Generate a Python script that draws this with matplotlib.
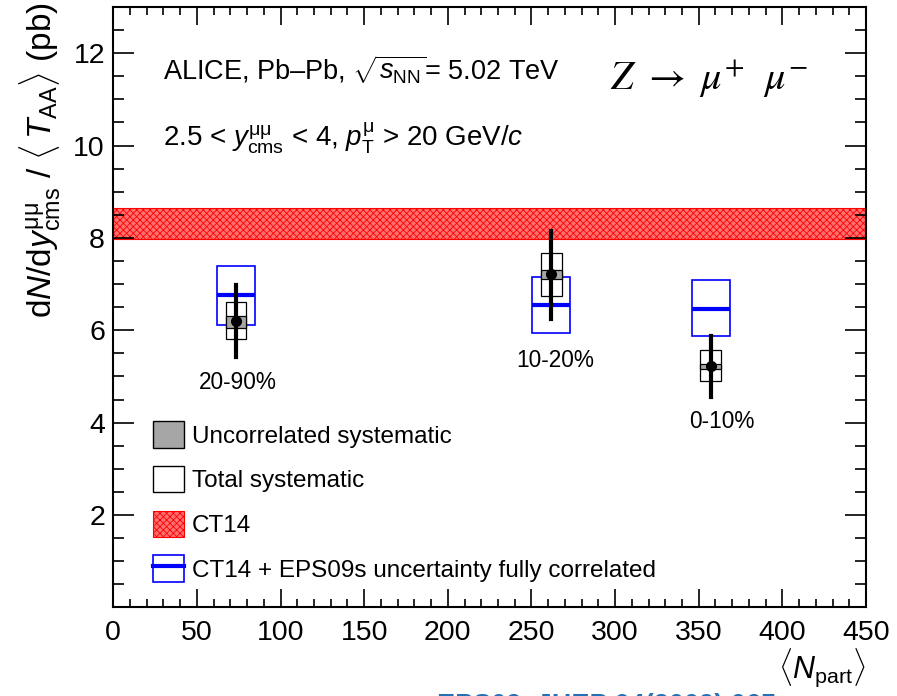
import matplotlib
matplotlib.use("Agg")
import matplotlib.pyplot as plt
from matplotlib.patches import Rectangle, Patch
from matplotlib.lines import Line2D
from matplotlib.ticker import MultipleLocator

plt.rcParams['font.family'] = ['Liberation Sans', 'DejaVu Sans']
plt.rcParams['mathtext.fontset'] = 'custom'
plt.rcParams['mathtext.rm'] = 'Liberation Sans'
plt.rcParams['mathtext.it'] = 'Liberation Sans:italic'
plt.rcParams['mathtext.bf'] = 'Liberation Sans:bold'
plt.rcParams['hatch.linewidth'] = 0.6

# ---------------- data ----------------
centralities = ["20-90%", "10-20%", "0-10%"]
npart = [73.4, 261.9, 357.2]
yield_val = [6.20, 7.21, 5.23]
stat_lo = [5.43, 6.25, 4.56]
stat_hi = [6.99, 8.15, 5.88]
syst_tot_lo = [5.80, 6.75, 4.90]
syst_tot_hi = [6.62, 7.67, 5.57]
syst_unc_lo = [6.05, 7.11, 5.16]
syst_unc_hi = [6.31, 7.30, 5.27]
eps_central = [6.76, 6.54, 6.47]
eps_lo = [6.11, 5.93, 5.87]
eps_hi = [7.39, 7.16, 7.09]
ct14_lo, ct14_hi = 7.98, 8.65
label_pos = [(74.6, 4.73), (264.0, 5.20), (364.0, 3.89)]

syst_halfw = 6.2
eps_halfw = 11.3

fig = plt.figure(figsize=(8.97, 6.96), dpi=100)
ax = fig.add_axes([113.3/897, 1-607.3/696, (866-113.3)/897, (607.3-7)/696])
ax.set_xlim(0, 450)
ax.set_ylim(0, 13)

# CT14 band
ax.axhspan(ct14_lo, ct14_hi, facecolor='#ff7070', edgecolor='red', hatch='xxxxx', lw=0.8, zorder=1)

for i in range(len(npart)):
    x = npart[i]
    # EPS09 box + line
    ax.add_patch(Rectangle((x-eps_halfw, eps_lo[i]), 2*eps_halfw, eps_hi[i]-eps_lo[i],
                           facecolor='none', edgecolor='blue', lw=1.2, zorder=2))
    ax.plot([x-eps_halfw, x+eps_halfw], [eps_central[i]]*2, color='blue', lw=3.0,
            solid_capstyle='butt', zorder=3)
    # total syst box
    ax.add_patch(Rectangle((x-syst_halfw, syst_tot_lo[i]), 2*syst_halfw, syst_tot_hi[i]-syst_tot_lo[i],
                           facecolor='none', edgecolor='black', lw=0.9, zorder=4))
    # uncorrelated syst box
    ax.add_patch(Rectangle((x-syst_halfw, syst_unc_lo[i]), 2*syst_halfw, syst_unc_hi[i]-syst_unc_lo[i],
                           facecolor='#a6a6a6', edgecolor='black', lw=0.9, zorder=5))
    # stat error
    ax.plot([x, x], [stat_lo[i], stat_hi[i]], color='black', lw=3.0, zorder=6)
    ax.plot([x], [yield_val[i]], 'o', color='black', ms=7, zorder=7)
    ax.text(label_pos[i][0], label_pos[i][1], centralities[i], ha='center', va='baseline',
            fontsize=16.3)

# ticks
ax.xaxis.set_major_locator(MultipleLocator(50))
ax.xaxis.set_minor_locator(MultipleLocator(10))
ax.yaxis.set_major_locator(MultipleLocator(2))
ax.yaxis.set_minor_locator(MultipleLocator(0.5))
ax.set_yticks([2, 4, 6, 8, 10, 12])
ax.tick_params(which='both', direction='in', top=True, right=True, width=1.2)
ax.tick_params(axis='x', which='major', length=13, pad=9, labelsize=20.5)
ax.tick_params(axis='x', which='minor', length=6)
ax.tick_params(axis='y', which='major', length=15, pad=6, labelsize=20.5)
ax.tick_params(axis='y', which='minor', length=8)
for s in ax.spines.values():
    s.set_linewidth(1.5)

# texts
ax.text(29.7, 11.42, 'ALICE, Pb\u2013Pb, ' + r'$\sqrt{s_{\rm NN}}$= 5.02 TeV', fontsize=19.5, va='baseline')
ax.text(29.7, 9.97, r'2.5 < $y^{\rm \mu\mu}_{\rm cms}$ < 4, $p^{\rm \mu}_{\rm T}$ > 20 GeV/$c$',
        fontsize=20, va='baseline')
ax.text(297, 11.20, r'$Z\ \rightarrow\ \mu^{+}\ \ \mu^{-}$', fontsize=29, va='baseline',
        math_fontfamily='stix')

fig.text(40/897, 1-2/696, r'd$N$/d$y^{\rm \mu\mu}_{\rm cms}$ / $\langle\, T_{\rm AA}\rangle$ (pb)',
         rotation=90, ha='center', va='top', fontsize=24)
fig.text(865/897, 1-678/696, r'$\langle N_{\rm part}\rangle$', ha='right', va='baseline', fontsize=22)
fig.text(437/897, 1-713/696, 'EPS09, JHEP 04(2009) 065', color='#2471b5', fontsize=19.5,
         fontweight='bold', ha='left', va='baseline')

# legend
h_unc = Patch(facecolor='#a6a6a6', edgecolor='black', lw=1.0)
h_tot = Patch(facecolor='white', edgecolor='black', lw=1.0)
h_ct = Patch(facecolor='#ff7070', edgecolor='red', hatch='xxxxx', lw=0.8)
h_eps = (Patch(facecolor='white', edgecolor='blue', lw=1.2), Line2D([], [], color='blue', lw=3.0))
ax.legend([h_unc, h_tot, h_ct, h_eps],
          ['Uncorrelated systematic', 'Total systematic', 'CT14',
           'CT14 + EPS09s uncertainty fully correlated'],
          loc='upper left', bbox_to_anchor=(0.0531, 0.3098), frameon=False,
          fontsize=17.5, handlelength=1.28, handleheight=1.28, handletextpad=0.3,
          labelspacing=0.76, borderpad=0, borderaxespad=0)

fig.savefig('out.png', dpi=100)
